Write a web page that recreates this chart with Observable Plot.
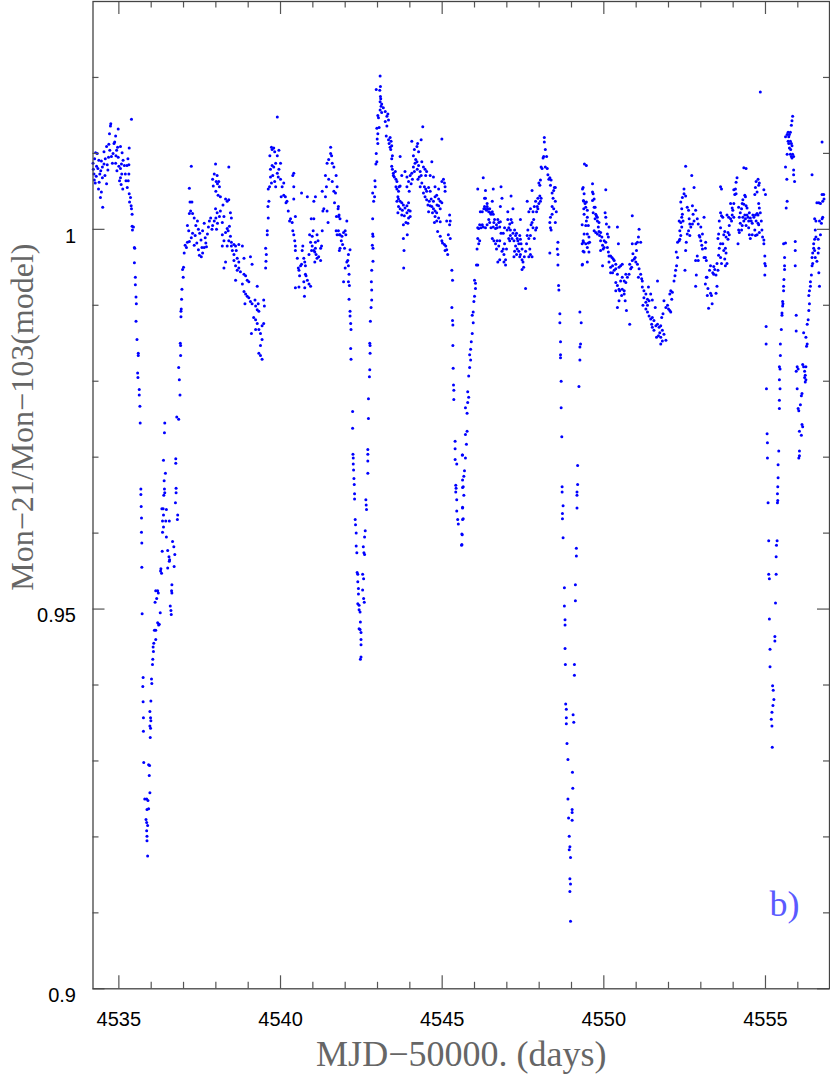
<!DOCTYPE html>
<html>
<head>
<meta charset="utf-8">
<script src="https://cdn.jsdelivr.net/npm/d3@7"></script>
<script src="https://cdn.jsdelivr.net/npm/@observablehq/plot@0.6"></script>
<style>
  html, body { margin: 0; padding: 0; background: #fff; }
  #chart svg { display: block; }
</style>
</head>
<body>
<div id="chart"></div>
<script>
// ---- axis / tick values ----
const xMajor = [4535, 4540, 4545, 4550, 4555];
const xMinor = [4536, 4537, 4538, 4539, 4541, 4542, 4543, 4544, 4546, 4547, 4548, 4549, 4551, 4552, 4553, 4554, 4556];
const yMajor = [0.9, 0.95, 1.0];
const yMajorLabels = ["0.9", "0.95", "1"];
const yMinor = [0.91, 0.92, 0.93, 0.94, 0.96, 0.97, 0.98, 0.99, 1.01, 1.02];
const xTitle = "MJD\u221250000. (days)";
const yTitle = "Mon\u221221/Mon\u2212103(model)";
const panelTag = "b)";

// ---- data: [MJD-50000, flux ratio] ----
const baseline1 = [[4534.20,1.0087],[4534.24,1.0065],[4534.27,1.0061],[4534.23,1.0073],[4534.28,1.0101],[4534.33,1.0100],[4534.25,1.0093],[4534.38,1.0091],[4534.46,1.0090],[4534.31,1.0083],[4534.35,1.0080],[4534.49,1.0082],[4534.41,1.0073],[4534.49,1.0068],[4534.57,1.0071],[4534.39,1.0062],[4534.62,1.0060],[4534.37,1.0053],[4534.46,1.0049],[4534.43,1.0042],[4534.50,1.0029],[4534.54,1.0086],[4534.64,1.0085],[4534.54,1.0102],[4534.62,1.0109],[4534.69,1.0112],[4534.71,1.0126],[4534.75,1.0139],[4534.74,1.0136],[4534.90,1.0123],[4534.98,1.0132],[4534.87,1.0115],[4534.85,1.0113],[4534.68,1.0095],[4534.77,1.0096],[4534.91,1.0097],[4534.98,1.0095],[4534.80,1.0087],[4534.90,1.0087],[4534.96,1.0108],[4535.05,1.0109],[4535.08,1.0086],[4535.25,1.0084],[4535.17,1.0084],[4535.31,1.0085],[4535.32,1.0107],[4535.28,1.0093],[4534.94,1.0077],[4535.05,1.0080],[4535.09,1.0073],[4535.05,1.0068],[4535.02,1.0064],[4535.07,1.0059],[4535.22,1.0064],[4535.29,1.0064],[4535.31,1.0073],[4535.12,1.0053],[4535.26,1.0055],[4535.32,1.0047],[4535.36,1.0042],[4535.33,1.0036],[4535.38,1.0031],[4535.39,1.0027],[4535.41,1.0020],[4535.39,1.0145],[4535.41,1.0004],[4535.45,1.0003],[4535.42,0.9999],[4535.49,0.9975],[4534.21,1.0079],[4534.30,1.0070],[4534.44,1.0077],[4534.58,1.0093],[4534.66,1.0078],[4534.72,1.0104],[4534.82,1.0100],[4534.93,1.0104],[4535.00,1.0083],[4535.13,1.0091],[4535.20,1.0073],[4535.10,1.0101]];

const eclipse1 = [[4535.48,0.9976],[4535.48,0.9956],[4535.51,0.9937],[4535.51,0.9927],[4535.53,0.9911],[4535.54,0.9902],[4535.53,0.9879],[4535.56,0.9855],[4535.60,0.9837],[4535.60,0.9834],[4535.58,0.9811],[4535.59,0.9805],[4535.63,0.9789],[4535.63,0.9782],[4535.65,0.9767],[4535.66,0.9745],[4535.68,0.9658],[4535.68,0.9651],[4535.69,0.9635],[4535.70,0.9620],[4535.70,0.9601],[4535.71,0.9587],[4535.71,0.9555],[4535.72,0.9494],[4535.75,0.9410],[4535.74,0.9398],[4535.75,0.9378],[4535.76,0.9357],[4535.76,0.9339],[4535.77,0.9298],[4535.80,0.9250],[4535.86,0.9250],[4535.90,0.9248],[4535.87,0.9236],[4535.92,0.9237],[4535.84,0.9223],[4535.86,0.9219],[4535.89,0.9215],[4535.86,0.9208],[4535.87,0.9201],[4535.87,0.9195],[4535.89,0.9175],[4535.92,0.9295],[4535.95,0.9294],[4535.94,0.9281],[4535.96,0.9258],[4535.97,0.9331],[4535.96,0.9365],[4535.98,0.9357],[4535.99,0.9353],[4535.96,0.9346],[4535.98,0.9343],[4535.99,0.9379],[4536.01,0.9408],[4536.02,0.9402],[4536.04,0.9427],[4536.05,0.9434],[4536.06,0.9450],[4536.07,0.9444],[4536.08,0.9455],[4536.14,0.9460],[4536.10,0.9472],[4536.14,0.9472],[4536.20,0.9482],[4536.23,0.9479],[4536.25,0.9480],[4536.28,0.9495],[4536.12,0.9509],[4536.17,0.9514],[4536.22,0.9521],[4536.20,0.9524],[4536.14,0.9524],[4536.29,0.9550],[4536.32,0.9547],[4536.30,0.9553],[4536.34,0.9576],[4536.42,0.9745],[4536.41,0.9732],[4536.38,0.9696],[4536.44,0.9679],[4536.40,0.9669],[4536.41,0.9658],[4536.42,0.9653],[4536.39,0.9650],[4536.33,0.9632],[4536.37,0.9632],[4536.47,0.9631],[4536.38,0.9624],[4536.35,0.9616],[4536.45,0.9616],[4536.56,0.9616],[4536.38,0.9608],[4536.35,0.9601],[4536.47,0.9595],[4536.51,0.9577],[4536.55,0.9569],[4536.56,0.9563],[4536.51,0.9554],[4536.57,0.9565],[4536.66,0.9589],[4536.70,0.9582],[4536.73,0.9572],[4536.71,0.9556],[4536.64,0.9532],[4536.63,0.9524],[4536.64,0.9521],[4536.59,0.9504],[4536.61,0.9498],[4536.62,0.9493],[4536.76,0.9698],[4536.76,0.9692],[4536.77,0.9659],[4536.77,0.9653],[4536.75,0.9640],[4536.82,0.9624],[4536.81,0.9618],[4536.79,0.9753],[4536.85,0.9750],[4536.89,0.9782],[4536.87,0.9802],[4536.85,0.9818],[4536.91,0.9834],[4536.91,0.9847],[4536.90,0.9850],[4536.92,0.9892],[4536.92,0.9885],[4536.93,0.9895],[4536.94,0.9908],[4536.95,0.9921],[4536.99,0.9937],[4536.97,0.9947],[4537.00,0.9950]];

const plateau1 = [[4537.02,0.9969],[4537.09,0.9976],[4537.05,0.9979],[4537.12,0.9983],[4537.18,0.9984],[4537.24,0.9989],[4537.12,1.0005],[4537.16,0.9998],[4537.18,1.0021],[4537.22,1.0024],[4537.28,1.0021],[4537.20,1.0036],[4537.26,1.0036],[4537.18,1.0054],[4537.24,1.0083],[4537.33,1.0015],[4537.38,1.0005],[4537.43,1.0011],[4537.46,1.0000],[4537.50,0.9995],[4537.54,0.9986],[4537.57,0.9976],[4537.59,0.9998],[4537.64,1.0008],[4537.67,0.9989],[4537.69,0.9982],[4537.74,0.9994],[4537.77,1.0003],[4537.80,1.0011],[4537.84,1.0015],[4537.88,1.0000],[4537.90,1.0005],[4537.95,1.0011],[4538.00,1.0015],[4538.02,1.0000],[4538.05,1.0008],[4537.41,0.9982],[4537.46,0.9973],[4537.49,0.9966],[4537.55,0.9964],[4537.59,0.9969],[4537.64,0.9976],[4537.71,0.9977],[4537.33,0.9979],[4537.28,0.9995],[4537.36,0.9992],[4537.90,1.0066],[4537.95,1.0073],[4538.00,1.0050],[4538.05,1.0060],[4537.92,1.0057],[4537.99,1.0086],[4538.04,1.0071],[4538.01,1.0063],[4538.09,1.0063],[4538.11,1.0056],[4538.07,1.0045],[4538.14,1.0043],[4537.99,1.0027],[4538.04,1.0022],[4538.14,1.0024],[4538.22,1.0032],[4538.25,1.0017],[4538.20,1.0009],[4538.11,1.0017],[4538.40,1.0082],[4538.30,1.0040],[4538.35,1.0037],[4538.40,1.0039],[4538.45,1.0022],[4538.48,1.0015],[4538.42,1.0004],[4538.35,1.0001],[4538.30,0.9996],[4538.20,0.9993],[4538.25,0.9985],[4538.40,0.9985],[4538.38,0.9998],[4538.45,0.9991],[4538.48,0.9983],[4538.56,0.9980],[4538.61,0.9978],[4538.51,0.9972],[4538.56,0.9967],[4538.63,0.9972],[4538.71,0.9980],[4538.66,0.9962],[4538.71,0.9957],[4538.82,0.9978],[4538.87,0.9962],[4538.56,0.9959],[4538.61,0.9952],[4538.66,0.9946],[4538.71,0.9949],[4538.76,0.9944],[4538.61,0.9933],[4538.87,0.9941],[4538.92,0.9939],[4538.97,0.9933],[4539.02,0.9931],[4538.82,0.9928],[4538.87,0.9918],[4538.92,0.9915],[4538.97,0.9912],[4539.02,0.9910],[4539.07,0.9905],[4539.12,0.9902],[4538.90,0.9902],[4539.07,0.9964],[4539.12,0.9954],[4539.21,0.9907],[4539.23,0.9899],[4539.31,0.9902],[4539.28,0.9894],[4539.33,0.9892],[4539.17,0.9884],[4539.23,0.9881],[4539.28,0.9876],[4539.10,0.9863],[4539.23,0.9868],[4539.33,0.9868],[4539.38,0.9863],[4539.43,0.9873],[4539.48,0.9876],[4539.43,0.9855],[4539.38,0.9847],[4539.33,0.9837],[4539.38,0.9834],[4539.43,0.9829],[4539.48,0.9907],[4539.50,0.9899],[4539.28,0.9925],[4538.30,0.9957],[4538.25,0.9949],[4538.20,0.9978],[4538.35,0.9978],[4538.48,0.9978]];

const bumps2 = [[4539.54,0.9949],[4539.55,0.9958],[4539.56,0.9967],[4539.54,0.9975],[4539.59,0.9993],[4539.59,0.9998],[4539.62,1.0015],[4539.61,1.0030],[4539.64,1.0037],[4539.62,1.0053],[4539.66,1.0056],[4539.69,1.0069],[4539.69,1.0079],[4539.74,1.0084],[4539.79,1.0082],[4539.67,1.0097],[4539.72,1.0108],[4539.74,1.0105],[4539.79,1.0107],[4539.82,1.0102],[4539.90,1.0097],[4539.95,1.0104],[4539.90,1.0148],[4539.85,1.0087],[4539.76,1.0071],[4539.82,1.0063],[4539.90,1.0074],[4539.93,1.0069],[4539.72,1.0061],[4539.85,1.0056],[4539.95,1.0079],[4540.00,1.0066],[4540.00,1.0087],[4540.05,1.0056],[4540.10,1.0045],[4540.02,1.0043],[4540.15,1.0043],[4540.17,1.0035],[4540.20,1.0037],[4540.10,1.0061],[4540.24,1.0024],[4540.28,1.0011],[4540.31,1.0014],[4540.36,1.0009],[4540.38,0.9998],[4540.41,0.9993],[4540.44,0.9985],[4540.46,0.9978],[4540.41,1.0074],[4540.38,1.0071],[4540.41,1.0056],[4540.41,1.0040],[4540.46,1.0017],[4540.46,0.9972],[4540.52,0.9962],[4540.55,0.9949],[4540.57,0.9946],[4540.59,0.9939],[4540.62,0.9952],[4540.65,0.9954],[4540.67,0.9972],[4540.69,0.9978],[4540.72,0.9962],[4540.75,0.9957],[4540.77,0.9952],[4540.79,0.9939],[4540.83,0.9933],[4540.72,0.9931],[4540.75,0.9923],[4540.77,0.9941],[4540.46,0.9923],[4540.57,0.9924],[4540.74,0.9912],[4540.88,0.9928],[4540.93,0.9925],[4540.65,1.0048],[4540.83,1.0043],[4540.90,0.9993],[4540.93,0.9983],[4540.96,0.9972],[4540.98,0.9978],[4541.03,0.9972],[4541.06,0.9970],[4541.08,0.9975],[4541.10,0.9967],[4541.13,0.9962],[4541.06,0.9957],[4541.18,0.9964],[4541.13,0.9993],[4541.03,1.0014],[4541.08,0.9983],[4541.16,0.9985],[4541.24,0.9975],[4541.27,0.9978],[4541.24,0.9959],[4541.29,0.9998],[4541.31,1.0024],[4541.34,1.0027],[4541.29,1.0050],[4541.39,1.0043],[4541.42,1.0056],[4541.39,1.0071],[4541.44,1.0087],[4541.49,1.0092],[4541.55,1.0108],[4541.58,1.0097],[4541.60,1.0087],[4541.65,1.0082],[4541.55,1.0100],[4541.49,1.0066],[4541.60,1.0063],[4541.65,1.0050],[4541.67,1.0035],[4541.72,1.0071],[4541.70,1.0048],[4541.75,1.0056],[4541.73,1.0017],[4541.78,1.0027],[4541.80,1.0017],[4541.72,0.9998],[4541.75,0.9993],[4541.82,0.9993],[4541.82,0.9972],[4541.47,1.0009],[4541.44,1.0024],[4541.08,1.0043],[4541.03,1.0037],[4540.95,1.0014],[4541.01,0.9998],[4540.98,0.9991],[4540.88,0.9967]];

const eclipse2 = [[4541.79,1.0030],[4541.81,1.0019],[4541.84,1.0014],[4541.79,0.9998],[4541.84,0.9993],[4541.90,0.9991],[4541.95,0.9996],[4542.00,0.9998],[4542.02,0.9993],[4541.88,0.9985],[4541.92,0.9980],[4541.84,0.9975],[4541.98,0.9975],[4542.05,1.0011],[4542.00,0.9949],[4542.05,0.9957],[4542.08,0.9959],[4542.10,0.9952],[4542.12,0.9941],[4541.95,0.9931],[4542.10,0.9931],[4542.13,0.9926],[4542.15,0.9973],[4542.10,0.9967],[4542.12,0.9908],[4542.15,0.9892],[4542.15,0.9886],[4542.17,0.9876],[4542.18,0.9868],[4542.17,0.9843],[4542.18,0.9829],[4542.23,0.9760],[4542.23,0.9738],[4542.24,0.9704],[4542.25,0.9699],[4542.25,0.9691],[4542.26,0.9683],[4542.27,0.9672],[4542.28,0.9664],[4542.29,0.9652],[4542.29,0.9645],[4542.31,0.9618],[4542.32,0.9611],[4542.34,0.9600],[4542.34,0.9583],[4542.36,0.9574],[4542.37,0.9548],[4542.39,0.9546],[4542.39,0.9536],[4542.41,0.9527],[4542.41,0.9520],[4542.39,0.9507],[4542.43,0.9505],[4542.43,0.9499],[4542.46,0.9496],[4542.47,0.9483],[4542.43,0.9474],[4542.46,0.9473],[4542.49,0.9469],[4542.49,0.9460],[4542.49,0.9453],[4542.49,0.9437],[4542.47,0.9434],[4542.54,0.9546],[4542.57,0.9540],[4542.54,0.9525],[4542.57,0.9514],[4542.59,0.9509],[4542.56,0.9582],[4542.58,0.9574],[4542.60,0.9572],[4542.62,0.9603],[4542.60,0.9595],[4542.64,0.9644],[4542.65,0.9637],[4542.66,0.9631],[4542.70,0.9710],[4542.70,0.9704],[4542.70,0.9695],[4542.70,0.9679],[4542.72,0.9751],[4542.72,0.9777],[4542.75,0.9806],[4542.76,0.9815],[4542.77,0.9837],[4542.77,0.9847],[4542.76,0.9850],[4542.78,0.9879],[4542.80,0.9897],[4542.82,0.9907],[4542.82,0.9920],[4542.81,0.9931],[4542.82,0.9946],[4542.86,0.9958],[4542.86,0.9975],[4542.84,0.9979],[4542.86,0.9991],[4542.85,0.9994],[4542.85,1.0014],[4542.88,1.0037],[4542.85,1.0048],[4542.93,1.0056],[4542.91,1.0043],[4542.92,1.0064],[4542.95,1.0086],[4542.98,1.0089],[4542.96,1.0100],[4542.99,1.0119],[4543.01,1.0126],[4543.01,1.0113],[4543.05,1.0134],[4542.98,1.0133],[4543.01,1.0150],[4543.08,1.0157],[4543.13,1.0154],[4543.18,1.0160],[4543.11,1.0162],[4543.13,1.0165],[4543.08,1.0168],[4543.10,1.0172],[4543.09,1.0175],[4543.07,1.0183],[4543.09,1.0188],[4543.08,1.0202],[4542.96,1.0184],[4543.03,1.0147]];

const plateau3 = [[4543.24,1.0155],[4543.29,1.0149],[4543.32,1.0152],[4543.24,1.0142],[4543.34,1.0144],[4543.29,1.0136],[4543.27,1.0123],[4543.34,1.0118],[4543.39,1.0121],[4543.36,1.0113],[4543.42,1.0116],[4543.39,1.0108],[4543.44,1.0110],[4543.41,1.0105],[4543.46,1.0097],[4543.44,1.0093],[4543.44,1.0083],[4543.46,1.0079],[4543.49,1.0074],[4543.49,1.0071],[4543.52,1.0069],[4543.55,1.0076],[4543.57,1.0066],[4543.60,1.0063],[4543.70,1.0096],[4543.57,1.0056],[4543.60,1.0053],[4543.65,1.0050],[4543.67,1.0056],[4543.70,1.0057],[4543.63,1.0043],[4543.65,1.0040],[4543.60,1.0037],[4543.70,1.0037],[4543.75,1.0035],[4543.80,1.0032],[4543.65,1.0030],[4543.70,1.0027],[4543.77,1.0025],[4543.85,1.0028],[4543.91,1.0031],[4543.96,1.0035],[4543.63,1.0022],[4543.75,1.0019],[4543.83,1.0018],[4543.91,1.0022],[4543.96,1.0025],[4544.01,1.0024],[4543.80,1.0006],[4543.88,1.0009],[4543.94,1.0008],[4544.01,1.0017],[4543.96,1.0015],[4543.92,0.9993],[4543.80,0.9988],[4543.82,0.9972],[4543.81,0.9949],[4543.75,1.0071],[4543.85,1.0076],[4543.91,1.0069],[4543.96,1.0063],[4543.91,1.0056],[4543.98,1.0050],[4544.04,1.0060],[4544.08,1.0066],[4544.01,1.0071],[4544.06,1.0074],[4544.14,1.0076],[4544.11,1.0082],[4544.16,1.0087],[4544.22,1.0089],[4544.27,1.0084],[4544.23,1.0079],[4544.32,1.0076],[4544.29,1.0069],[4544.25,1.0066],[4544.35,1.0071],[4544.11,1.0097],[4544.14,1.0105],[4544.22,1.0109],[4544.27,1.0102],[4544.24,1.0113],[4544.06,1.0116],[4544.35,1.0118],[4544.40,1.0135],[4544.18,1.0092],[4544.37,1.0089],[4544.42,1.0082],[4544.47,1.0079],[4544.37,1.0061],[4544.32,1.0056],[4544.45,1.0056],[4544.49,1.0053],[4544.42,1.0048],[4544.52,1.0050],[4544.58,1.0055],[4544.63,1.0050],[4544.47,1.0043],[4544.52,1.0039],[4544.60,1.0037],[4544.66,1.0040],[4544.56,1.0032],[4544.63,1.0031],[4544.68,1.0030],[4544.73,1.0027],[4544.78,1.0024],[4544.70,1.0022],[4544.83,1.0022],[4544.58,1.0023],[4544.73,1.0037],[4544.78,1.0043],[4544.83,1.0045],[4544.89,1.0040],[4544.94,1.0037],[4544.99,1.0035],[4544.84,1.0032],[4544.89,1.0031],[4544.94,1.0027],[4544.78,1.0017],[4544.83,1.0011],[4544.89,1.0015],[4544.94,1.0010],[4544.76,1.0009],[4544.86,0.9997],[4544.94,0.9991],[4544.99,0.9985],[4545.01,0.9982],[4545.07,0.9980],[4545.11,0.9978],[4545.14,0.9973],[4545.17,0.9967],[4545.09,0.9972],[4545.19,0.9993],[4545.14,1.0011],[4545.09,1.0050],[4545.07,1.0061],[4545.04,1.0066],[4544.99,1.0063],[4545.09,1.0056],[4544.99,1.0119],[4544.68,1.0089],[4544.63,1.0071],[4544.73,1.0069],[4544.52,1.0076],[4544.49,1.0071],[4544.78,1.0056],[4544.89,1.0053],[4545.23,1.0019],[4545.25,1.0011],[4545.23,1.0006],[4545.25,0.9988]];

const eclipse3 = [[4545.30,0.9946],[4545.32,0.9933],[4545.30,0.9897],[4545.32,0.9880],[4545.33,0.9874],[4545.33,0.9847],[4545.34,0.9817],[4545.35,0.9795],[4545.36,0.9788],[4545.36,0.9776],[4545.40,0.9721],[4545.40,0.9711],[4545.40,0.9697],[4545.45,0.9691],[4545.42,0.9663],[4545.43,0.9659],[4545.42,0.9654],[4545.45,0.9644],[4545.45,0.9629],[4545.48,0.9618],[4545.50,0.9612],[4545.63,0.9703],[4545.63,0.9670],[4545.63,0.9660],[4545.63,0.9634],[4545.63,0.9618],[4545.61,0.9599],[4545.61,0.9585],[4545.60,0.9584],[4545.62,0.9598],[4545.65,0.9619],[4545.63,0.9633],[4545.67,0.9650],[4545.65,0.9661],[4545.69,0.9682],[4545.67,0.9675],[4545.72,0.9699],[4545.62,0.9703],[4545.75,0.9717],[4545.72,0.9730],[4545.77,0.9734],[4545.77,0.9758],[4545.72,0.9765],[4545.79,0.9772],[4545.82,0.9779],[4545.79,0.9786],[4545.82,0.9807],[4545.85,0.9818],[4545.88,0.9828],[4545.85,0.9835],[4545.88,0.9842],[4545.90,0.9852],[4545.93,0.9863],[4545.96,0.9877],[4545.93,0.9887],[4545.96,0.9891],[4545.98,0.9905],[4546.00,0.9912],[4546.03,0.9922],[4546.03,0.9929],[4546.00,0.9933],[4546.06,0.9953],[4546.10,0.9953],[4546.08,0.9974],[4546.13,0.9981],[4546.10,0.9988],[4546.16,0.9985]];

const plateau4 = [[4546.10,1.0002],[4546.16,1.0006],[4546.13,1.0001],[4546.20,1.0002],[4546.24,1.0006],[4546.27,1.0003],[4546.18,1.0023],[4546.24,1.0023],[4546.29,1.0027],[4546.31,1.0030],[4546.34,1.0027],[4546.37,1.0025],[4546.39,1.0030],[4546.41,1.0027],[4546.44,1.0023],[4546.47,1.0027],[4546.49,1.0022],[4546.51,1.0020],[4546.55,1.0023],[4546.58,1.0020],[4546.31,1.0041],[4546.34,1.0041],[4546.39,1.0034],[4546.10,1.0053],[4546.27,1.0068],[4546.34,1.0051],[4546.58,1.0053],[4546.55,1.0037],[4546.44,1.0013],[4546.39,1.0006],[4546.34,1.0002],[4546.47,1.0009],[4546.51,1.0002],[4546.58,1.0003],[4546.60,1.0009],[4546.62,1.0013],[4546.65,1.0001],[4546.68,1.0006],[4546.70,1.0002],[4546.72,1.0013],[4546.75,1.0009],[4546.78,1.0003],[4546.80,1.0010],[4546.82,0.9995],[4546.80,1.0030],[4546.82,1.0056],[4546.85,1.0041],[4546.60,0.9985],[4546.55,0.9988],[4546.65,0.9981],[4546.70,0.9985],[4546.68,0.9974],[4546.75,0.9978],[4546.78,0.9985],[4546.72,0.9957],[4546.78,0.9960],[4546.85,0.9971],[4546.89,0.9974],[4546.91,0.9967],[4546.93,0.9981],[4546.96,0.9960],[4546.99,0.9974],[4546.96,0.9953],[4546.91,0.9957],[4546.89,0.9995],[4546.93,1.0002],[4547.01,0.9999],[4547.03,1.0013],[4547.06,1.0002],[4547.09,1.0007],[4547.11,0.9999],[4547.13,1.0013],[4547.16,1.0009],[4547.19,1.0027],[4547.13,1.0044],[4547.03,1.0023],[4547.06,0.9988],[4547.09,0.9985],[4547.11,0.9992],[4547.16,0.9988],[4547.19,0.9995],[4547.22,0.9985],[4547.24,0.9999],[4547.27,0.9992],[4547.30,0.9995],[4547.32,0.9988],[4547.34,0.9985],[4547.37,0.9981],[4547.40,0.9992],[4547.42,1.0013],[4547.42,0.9987],[4547.44,0.9981],[4547.47,0.9974],[4547.27,0.9978],[4547.32,0.9974],[4547.24,0.9971],[4547.22,0.9964],[4547.30,0.9967],[4547.37,0.9971],[4547.40,0.9964],[4547.42,0.9967],[4547.47,0.9960],[4547.50,0.9957],[4547.47,0.9947],[4547.52,0.9950],[4547.54,0.9964],[4547.58,0.9971],[4547.58,0.9922],[4547.61,0.9981],[4547.63,0.9992],[4547.65,0.9999],[4547.68,0.9988],[4547.71,0.9974],[4547.73,0.9992],[4547.75,1.0006],[4547.78,1.0009],[4547.81,1.0002],[4547.83,1.0013],[4547.73,0.9967],[4547.78,0.9964],[4547.68,0.9964],[4547.63,1.0037],[4547.68,1.0023],[4547.73,1.0027],[4547.78,1.0051],[4547.81,1.0023],[4547.85,1.0030],[4547.89,1.0037],[4547.92,1.0023],[4547.94,1.0030],[4547.96,1.0041],[4547.99,1.0034],[4548.02,1.0044],[4548.04,1.0037],[4548.06,1.0041],[4547.89,0.9999],[4547.85,0.9988],[4547.92,1.0002],[4547.96,1.0027],[4547.99,1.0061],[4548.02,1.0058],[4548.04,1.0065],[4548.06,1.0082],[4548.09,1.0080],[4548.12,1.0094],[4548.14,1.0096],[4548.16,1.0115],[4548.16,1.0121],[4548.19,1.0105],[4548.23,1.0096],[4548.19,1.0082],[4548.25,1.0080],[4548.27,1.0072],[4548.30,1.0066],[4548.33,1.0068],[4548.35,1.0058],[4548.37,1.0065],[4548.40,1.0048],[4548.43,1.0041],[4548.45,1.0051],[4548.47,1.0055],[4548.50,1.0055],[4548.50,1.0037],[4548.53,1.0023],[4548.40,1.0030],[4548.45,1.0027],[4548.50,1.0009],[4548.35,1.0016],[4548.33,1.0009],[4548.35,1.0002],[4548.37,0.9999],[4548.40,1.0020],[4548.33,0.9969]];

const eclipse4 = [[4548.58,0.9983],[4548.56,0.9974],[4548.58,0.9967],[4548.58,0.9953],[4548.60,0.9926],[4548.61,0.9920],[4548.64,0.9889],[4548.64,0.9877],[4548.66,0.9852],[4548.66,0.9835],[4548.66,0.9831],[4548.68,0.9800],[4548.68,0.9765],[4548.70,0.9727],[4548.71,0.9661],[4548.71,0.9654],[4548.74,0.9636],[4548.72,0.9626],[4548.72,0.9619],[4548.74,0.9594],[4548.78,0.9528],[4548.78,0.9504],[4548.80,0.9486],[4548.80,0.9479],[4548.80,0.9448],[4548.81,0.9427],[4548.82,0.9375],[4548.84,0.9368],[4548.84,0.9357],[4548.84,0.9349],[4548.86,0.9323],[4548.89,0.9302],[4548.89,0.9250],[4548.91,0.9225],[4548.93,0.9201],[4548.95,0.9187],[4548.93,0.9183],[4548.97,0.9173],[4548.95,0.9145],[4548.97,0.9138],[4548.95,0.9128],[4548.97,0.9089],[4549.03,0.9285],[4549.04,0.9264],[4549.02,0.9236],[4549.02,0.9232],[4549.02,0.9222],[4549.05,0.9361],[4549.07,0.9351],[4549.09,0.9427],[4549.09,0.9413],[4549.12,0.9532],[4549.12,0.9511],[4549.15,0.9580],[4549.15,0.9570],[4549.17,0.9654],[4549.17,0.9650],[4549.19,0.9664],[4549.17,0.9633],[4549.19,0.9689],[4549.23,0.9793],[4549.26,0.9828],[4549.26,0.9845],[4549.28,0.9849],[4549.26,0.9891],[4549.30,0.9877],[4549.33,0.9953],[4549.33,0.9981],[4549.36,0.9985],[4549.33,1.0006],[4549.36,0.9971],[4549.38,1.0027],[4549.38,1.0037],[4549.36,1.0055],[4549.40,1.0086]];

const wave5 = [[4549.34,1.0053],[4549.39,1.0047],[4549.37,1.0038],[4549.42,1.0034],[4549.46,1.0036],[4549.44,1.0029],[4549.49,1.0025],[4549.39,1.0020],[4549.49,1.0016],[4549.46,1.0011],[4549.52,1.0005],[4549.44,1.0005],[4549.39,0.9994],[4549.49,0.9994],[4549.54,0.9990],[4549.37,0.9983],[4549.44,0.9981],[4549.52,0.9982],[4549.56,0.9983],[4549.49,0.9976],[4549.54,0.9970],[4549.39,0.9970],[4549.49,0.9957],[4549.34,0.9954],[4549.46,1.0084],[4549.65,1.0060],[4549.65,1.0049],[4549.67,1.0047],[4549.70,1.0040],[4549.65,1.0038],[4549.70,1.0029],[4549.73,1.0029],[4549.67,1.0022],[4549.75,1.0020],[4549.77,1.0018],[4549.80,1.0016],[4549.73,1.0014],[4549.80,1.0011],[4549.85,1.0009],[4549.83,1.0003],[4549.70,0.9998],[4549.75,0.9996],[4549.80,0.9994],[4549.85,0.9997],[4549.90,0.9996],[4549.87,0.9992],[4549.94,0.9990],[4549.90,0.9985],[4550.01,0.9985],[4549.96,0.9979],[4549.98,0.9974],[4549.90,0.9972],[4550.04,1.0022],[4550.06,1.0016],[4550.08,1.0007],[4550.06,1.0052],[4550.11,0.9994],[4550.14,0.9990],[4550.06,0.9983],[4550.11,0.9976],[4550.01,0.9976],[4549.96,0.9952],[4550.14,0.9970],[4550.16,0.9965],[4550.21,0.9965],[4550.25,0.9963],[4550.29,0.9961],[4550.32,0.9959],[4550.16,0.9957],[4550.21,0.9950],[4550.27,0.9952],[4550.32,0.9946],[4550.37,0.9948],[4550.27,0.9943],[4550.21,0.9943],[4550.37,0.9954],[4550.42,1.0003],[4550.45,0.9981],[4550.16,1.0003],[4550.42,0.9941],[4550.47,0.9950],[4550.52,0.9952],[4550.57,0.9954],[4550.57,0.9937],[4550.52,0.9932],[4550.37,0.9930],[4550.42,0.9926],[4550.47,0.9921],[4550.37,0.9919],[4550.49,0.9919],[4550.57,0.9921],[4550.63,0.9919],[4550.55,0.9913],[4550.47,0.9906],[4550.42,0.9897],[4550.63,0.9915],[4550.66,0.9906],[4550.70,0.9893],[4550.80,0.9875],[4550.68,0.9941],[4550.63,0.9932],[4550.68,0.9930],[4550.73,0.9937],[4550.78,0.9941],[4550.83,0.9948],[4550.86,0.9950],[4550.80,0.9954],[4550.88,0.9959],[4550.94,0.9961],[4550.97,0.9963],[4550.90,0.9968],[4550.88,0.9981],[4550.99,0.9981],[4551.04,0.9983],[4551.01,0.9972],[4551.07,0.9990],[4551.09,1.0000],[4551.14,0.9983],[4550.88,1.0018],[4550.99,0.9957],[4551.04,0.9954],[4551.09,0.9948],[4551.07,0.9937],[4551.14,0.9941],[4551.17,0.9935],[4551.19,0.9932],[4551.19,0.9924],[4551.24,0.9919],[4551.30,0.9915],[4551.24,0.9910],[4551.35,0.9908],[4551.30,0.9904],[4551.35,0.9900],[4551.40,0.9906],[4551.38,0.9924],[4551.45,0.9915],[4551.50,0.9907],[4551.21,0.9900],[4551.30,0.9895],[4551.35,0.9891],[4551.40,0.9886],[4551.45,0.9882],[4551.50,0.9884],[4551.55,0.9880],[4551.48,0.9875],[4551.50,0.9871],[4551.55,0.9867],[4551.61,0.9873],[4551.66,0.9875],[4551.71,0.9871],[4551.76,0.9873],[4551.81,0.9867],[4551.73,0.9864],[4551.86,0.9862],[4551.69,0.9860],[4551.76,0.9858],[4551.63,0.9858],[4551.81,0.9853],[4551.92,0.9854],[4551.76,0.9849],[4551.66,0.9932],[4551.59,0.9897],[4551.79,0.9884],[4551.83,0.9889],[4551.86,0.9906],[4551.92,0.9897],[4552.00,0.9895],[4551.97,0.9900],[4552.04,0.9893],[4552.07,0.9891],[4552.04,0.9915],[4552.07,0.9919],[4552.12,0.9917],[4552.10,0.9908],[4552.17,0.9932],[4552.20,0.9939],[4552.22,0.9946],[4552.25,0.9952],[4552.28,0.9963],[4552.24,0.9970],[4552.28,0.9983],[4552.33,0.9985],[4552.35,0.9987],[4552.38,0.9992],[4552.35,0.9998],[4552.41,1.0003],[4552.38,1.0009],[4552.33,1.0011],[4552.43,1.0020],[4552.41,1.0027],[4552.38,1.0036],[4552.43,1.0042],[4552.48,1.0047],[4552.53,1.0044],[4552.41,1.0016],[4552.45,1.0011],[4552.53,1.0083],[4552.72,1.0071],[4552.48,1.0053],[4552.58,1.0029],[4552.62,1.0025],[4552.64,1.0014],[4552.66,1.0007],[4552.69,1.0003],[4552.62,0.9998],[4552.58,0.9994],[4552.66,0.9992],[4552.74,1.0031],[4552.76,1.0020],[4552.79,1.0011],[4552.74,1.0007],[4552.55,0.9983],[4552.53,0.9972],[4552.51,0.9946],[4552.79,1.0055],[4552.84,1.0025],[4552.89,1.0014],[4552.92,1.0007],[4552.95,0.9992],[4552.97,0.9990],[4553.00,0.9985],[4553.03,0.9979],[4552.84,0.9959],[4552.92,0.9959],[4552.89,0.9965],[4553.05,0.9974],[4553.10,0.9963],[4553.15,0.9983],[4553.17,0.9959],[4552.86,0.9940],[4552.84,0.9925],[4553.17,0.9937],[4553.20,0.9913],[4553.10,1.0016],[4553.00,1.0003],[4553.05,0.9994]];

const wave6 = [[4553.14,0.9975],[4553.14,0.9963],[4553.19,0.9937],[4553.14,0.9928],[4553.22,0.9922],[4553.27,0.9946],[4553.30,0.9952],[4553.33,0.9913],[4553.35,0.9902],[4553.24,0.9896],[4553.30,0.9916],[4553.37,0.9943],[4553.40,0.9951],[4553.40,0.9941],[4553.43,0.9947],[4553.47,0.9916],[4553.50,0.9925],[4553.47,0.9940],[4553.53,0.9946],[4553.50,0.9955],[4553.55,0.9966],[4553.61,0.9963],[4553.64,0.9955],[4553.57,0.9975],[4553.61,0.9981],[4553.53,0.9988],[4553.55,0.9994],[4553.61,1.0002],[4553.57,1.0011],[4553.61,1.0022],[4553.64,1.0018],[4553.68,1.0016],[4553.61,1.0056],[4553.64,1.0053],[4553.71,0.9993],[4553.74,0.9997],[4553.68,0.9981],[4553.71,0.9972],[4553.76,0.9975],[4553.78,0.9969],[4553.74,0.9961],[4553.81,0.9955],[4553.76,0.9952],[4553.78,0.9990],[4553.84,0.9987],[4553.81,1.0019],[4553.86,1.0016],[4553.88,1.0005],[4553.92,1.0014],[4553.84,0.9996],[4553.88,0.9993],[4553.95,1.0011],[4553.97,1.0019],[4553.99,1.0025],[4554.02,1.0016],[4553.92,1.0034],[4553.97,1.0028],[4554.02,1.0034],[4554.05,1.0046],[4554.02,1.0052],[4554.07,1.0053],[4554.09,1.0047],[4554.09,1.0062],[4554.12,1.0068],[4554.17,1.0029],[4554.19,1.0016],[4554.22,1.0022],[4554.26,1.0027],[4554.28,1.0034],[4554.30,1.0039],[4554.33,1.0033],[4554.36,1.0045],[4554.38,1.0043],[4554.40,1.0031],[4554.43,1.0028],[4554.22,1.0008],[4554.26,0.9999],[4554.28,1.0005],[4554.33,1.0011],[4554.30,1.0016],[4554.36,1.0019],[4554.38,1.0014],[4554.40,1.0005],[4554.43,1.0019],[4554.46,1.0016],[4554.48,1.0011],[4554.50,1.0022],[4554.53,1.0015],[4554.48,1.0002],[4554.50,0.9993],[4554.53,0.9988],[4554.56,1.0011],[4554.59,1.0008],[4554.61,1.0019],[4554.64,1.0016],[4554.67,0.9999],[4554.69,1.0019],[4554.71,1.0011],[4554.74,1.0021],[4554.77,1.0019],[4554.79,1.0034],[4554.81,1.0028],[4554.84,1.0022],[4554.69,0.9992],[4554.59,0.9993],[4554.74,0.9993],[4554.79,1.0006],[4554.81,0.9996],[4554.77,1.0008],[4554.33,1.0081],[4554.40,1.0080],[4554.17,0.9999],[4554.15,0.9981],[4554.19,0.9996],[4554.74,1.0049],[4554.69,1.0055],[4554.67,1.0046],[4554.71,1.0063],[4554.77,1.0066],[4554.79,1.0058],[4554.81,1.0061],[4554.84,1.0181],[4554.87,1.0011],[4554.89,0.9999],[4554.91,0.9990],[4554.95,0.9986],[4554.95,0.9981],[4554.98,0.9965],[4554.98,0.9955],[4555.00,0.9952],[4554.98,0.9940],[4554.95,1.0052],[4555.00,1.0046]];

const eclipse5 = [[4555.02,0.9872],[4555.02,0.9849],[4555.03,0.9790],[4555.05,0.9731],[4555.06,0.9719],[4555.06,0.9699],[4555.08,0.9640],[4555.10,0.9590],[4555.10,0.9546],[4555.12,0.9540],[4555.12,0.9487],[4555.14,0.9447],[4555.14,0.9424],[4555.22,0.9399],[4555.24,0.9393],[4555.26,0.9381],[4555.23,0.9373],[4555.20,0.9364],[4555.18,0.9355],[4555.20,0.9346],[4555.21,0.9318],[4555.29,0.9464],[4555.29,0.9458],[4555.31,0.9508],[4555.33,0.9546],[4555.33,0.9569],[4555.34,0.9584],[4555.36,0.9590],[4555.37,0.9640],[4555.38,0.9643],[4555.37,0.9652],[4555.38,0.9661],[4555.39,0.9673],[4555.39,0.9690],[4555.41,0.9708],[4555.43,0.9764],[4555.43,0.9775],[4555.45,0.9790],[4555.43,0.9802],[4555.45,0.9816],[4555.43,0.9819],[4555.46,0.9834],[4555.46,0.9849],[4555.49,0.9868],[4555.51,0.9887],[4555.51,0.9890],[4555.53,0.9899],[4555.54,0.9902],[4555.53,0.9905],[4555.56,0.9919],[4555.56,0.9925],[4555.57,0.9934],[4555.59,0.9947],[4555.59,0.9952],[4555.59,0.9963],[4555.62,0.9982],[4555.56,0.9981]];

const tail6 = [[4555.62,1.0082],[4555.66,1.0066],[4555.64,1.0028],[4555.67,1.0037],[4555.62,1.0122],[4555.67,1.0125],[4555.70,1.0128],[4555.72,1.0122],[4555.74,1.0125],[4555.77,1.0128],[4555.80,1.0137],[4555.82,1.0143],[4555.84,1.0149],[4555.80,1.0113],[4555.77,1.0116],[4555.72,1.0113],[4555.74,1.0107],[4555.78,1.0105],[4555.82,1.0110],[4555.84,1.0099],[4555.80,1.0096],[4555.87,1.0096],[4555.82,1.0094],[4555.87,1.0078],[4555.87,1.0072],[4555.90,1.0063],[4555.67,1.0099],[4555.70,1.0116],[4555.77,1.0099],[4555.92,0.9984],[4555.92,0.9972],[4555.92,0.9952],[4555.95,0.9887],[4555.95,0.9866],[4555.98,0.9819],[4556.01,0.9816],[4555.95,0.9813],[4555.98,0.9790],[4556.01,0.9764],[4556.03,0.9761],[4556.05,0.9734],[4556.08,0.9769],[4556.11,0.9781],[4556.13,0.9784],[4556.15,0.9822],[4556.18,0.9819],[4556.21,0.9813],[4556.23,0.9808],[4556.25,0.9802],[4556.23,0.9799],[4556.21,0.9805],[4556.25,0.9819],[4556.13,0.9743],[4556.15,0.9740],[4556.11,0.9729],[4556.05,0.9708],[4556.05,0.9702],[4556.03,0.9699],[4556.18,0.9864],[4556.25,0.9858],[4556.29,0.9849],[4556.27,0.9846],[4556.29,0.9875],[4556.32,0.9881],[4556.34,0.9893],[4556.36,0.9902],[4556.34,0.9913],[4556.36,0.9919],[4556.39,0.9925],[4556.39,0.9931],[4556.42,0.9940],[4556.44,0.9952],[4556.46,0.9955],[4556.44,0.9963],[4556.46,0.9969],[4556.49,0.9981],[4556.52,0.9987],[4556.54,0.9999],[4556.56,1.0011],[4556.52,1.0014],[4556.49,0.9975],[4556.54,0.9963],[4556.59,0.9958],[4556.63,0.9969],[4556.65,0.9975],[4556.70,0.9993],[4556.67,1.0011],[4556.73,1.0008],[4556.75,1.0014],[4556.77,1.0016],[4556.70,1.0034],[4556.75,1.0046],[4556.80,1.0046],[4556.81,1.0040],[4556.77,1.0037],[4556.65,1.0035],[4556.59,1.0035],[4556.44,1.0072],[4556.75,1.0115],[4556.67,0.9925],[4556.65,0.9943],[4556.63,0.9987],[4556.56,0.9990],[4556.52,0.9972]];

const segments = [baseline1, eclipse1, plateau1, bumps2, eclipse2, plateau3, eclipse3, plateau4, eclipse4, wave5, wave6, eclipse5, tail6];
const points = segments.flat().map(([mjd, ratio]) => ({mjd, ratio}));

// ---- layout ----
const W = 830, H = 1079;
const ML = 92.5, MR = 1, MT = 1, MB = 90.7;
const innerW = W - ML - MR, innerH = H - MT - MB;
const tickColor = "#555";
const titleFont = "'Liberation Serif', 'Times New Roman', serif";

const chart = Plot.plot({
  width: W,
  height: H,
  marginLeft: ML,
  marginRight: MR,
  marginTop: MT,
  marginBottom: MB,
  x: {domain: [4534.2, 4556.98]},
  y: {domain: [0.9, 1.03]},
  style: {background: "#fff", fontFamily: "'Liberation Sans', Arial, sans-serif", fontSize: "20px", color: "#000", overflow: "visible"},
  marks: [
    Plot.dot(points, {x: "mjd", y: "ratio", r: 1.5, fill: "#0000ff", stroke: "none"}),
    Plot.tickX(xMajor, {x: d => d, insetTop: innerH - 13, stroke: tickColor, strokeWidth: 1.2}),
    Plot.tickX(xMajor, {x: d => d, insetBottom: innerH - 13, stroke: tickColor, strokeWidth: 1.2}),
    Plot.tickX(xMinor, {x: d => d, insetTop: innerH - 6.5, stroke: tickColor, strokeWidth: 1.2}),
    Plot.tickX(xMinor, {x: d => d, insetBottom: innerH - 6.5, stroke: tickColor, strokeWidth: 1.2}),
    Plot.tickY(yMajor, {y: d => d, insetRight: innerW - 12, stroke: tickColor, strokeWidth: 1.2}),
    Plot.tickY(yMajor, {y: d => d, insetLeft: innerW - 12, stroke: tickColor, strokeWidth: 1.2}),
    Plot.tickY(yMinor, {y: d => d, insetRight: innerW - 6, stroke: tickColor, strokeWidth: 1.2}),
    Plot.tickY(yMinor, {y: d => d, insetLeft: innerW - 6, stroke: tickColor, strokeWidth: 1.2}),
    Plot.frame({stroke: "#444", strokeWidth: 1.3}),
    Plot.axisX({ticks: xMajor, tickSize: 0, tickPadding: 23, tickFormat: d => String(d), label: null, fontSize: 20}),
    Plot.axisY({ticks: yMajor, tickSize: 0, tickPadding: 17, tickFormat: d => yMajorLabels[yMajor.indexOf(d)], label: null, fontSize: 20, dy: 7}),
    Plot.text([yTitle], {text: d => d, frameAnchor: "left", dx: -70, dy: -78, rotate: -90, fontSize: 32, fontFamily: titleFont, fill: "#666", textAnchor: "middle", lineAnchor: "middle", ariaLabel: "ytitle"}),
    Plot.text([xTitle], {text: d => d, frameAnchor: "bottom", dy: 66, fontSize: 36, fontFamily: titleFont, fill: "#666", textAnchor: "middle", lineAnchor: "middle", ariaLabel: "xtitle"}),
    Plot.text([panelTag], {text: d => d, frameAnchor: "bottom-right", dx: -45, dy: -84, fontSize: 36, fontFamily: titleFont, fill: "#5a5aff", textAnchor: "middle", lineAnchor: "middle"})
  ]
});

// stretch the titles to the lengths seen in the original figure
const svg = d3.select(chart);
svg.select('g[aria-label="ytitle"] text').attr("textLength", 565).attr("lengthAdjust", "spacingAndGlyphs");
svg.select('g[aria-label="xtitle"] text').attr("textLength", 300).attr("lengthAdjust", "spacingAndGlyphs");

document.getElementById("chart").appendChild(chart);
</script>
</body>
</html>
